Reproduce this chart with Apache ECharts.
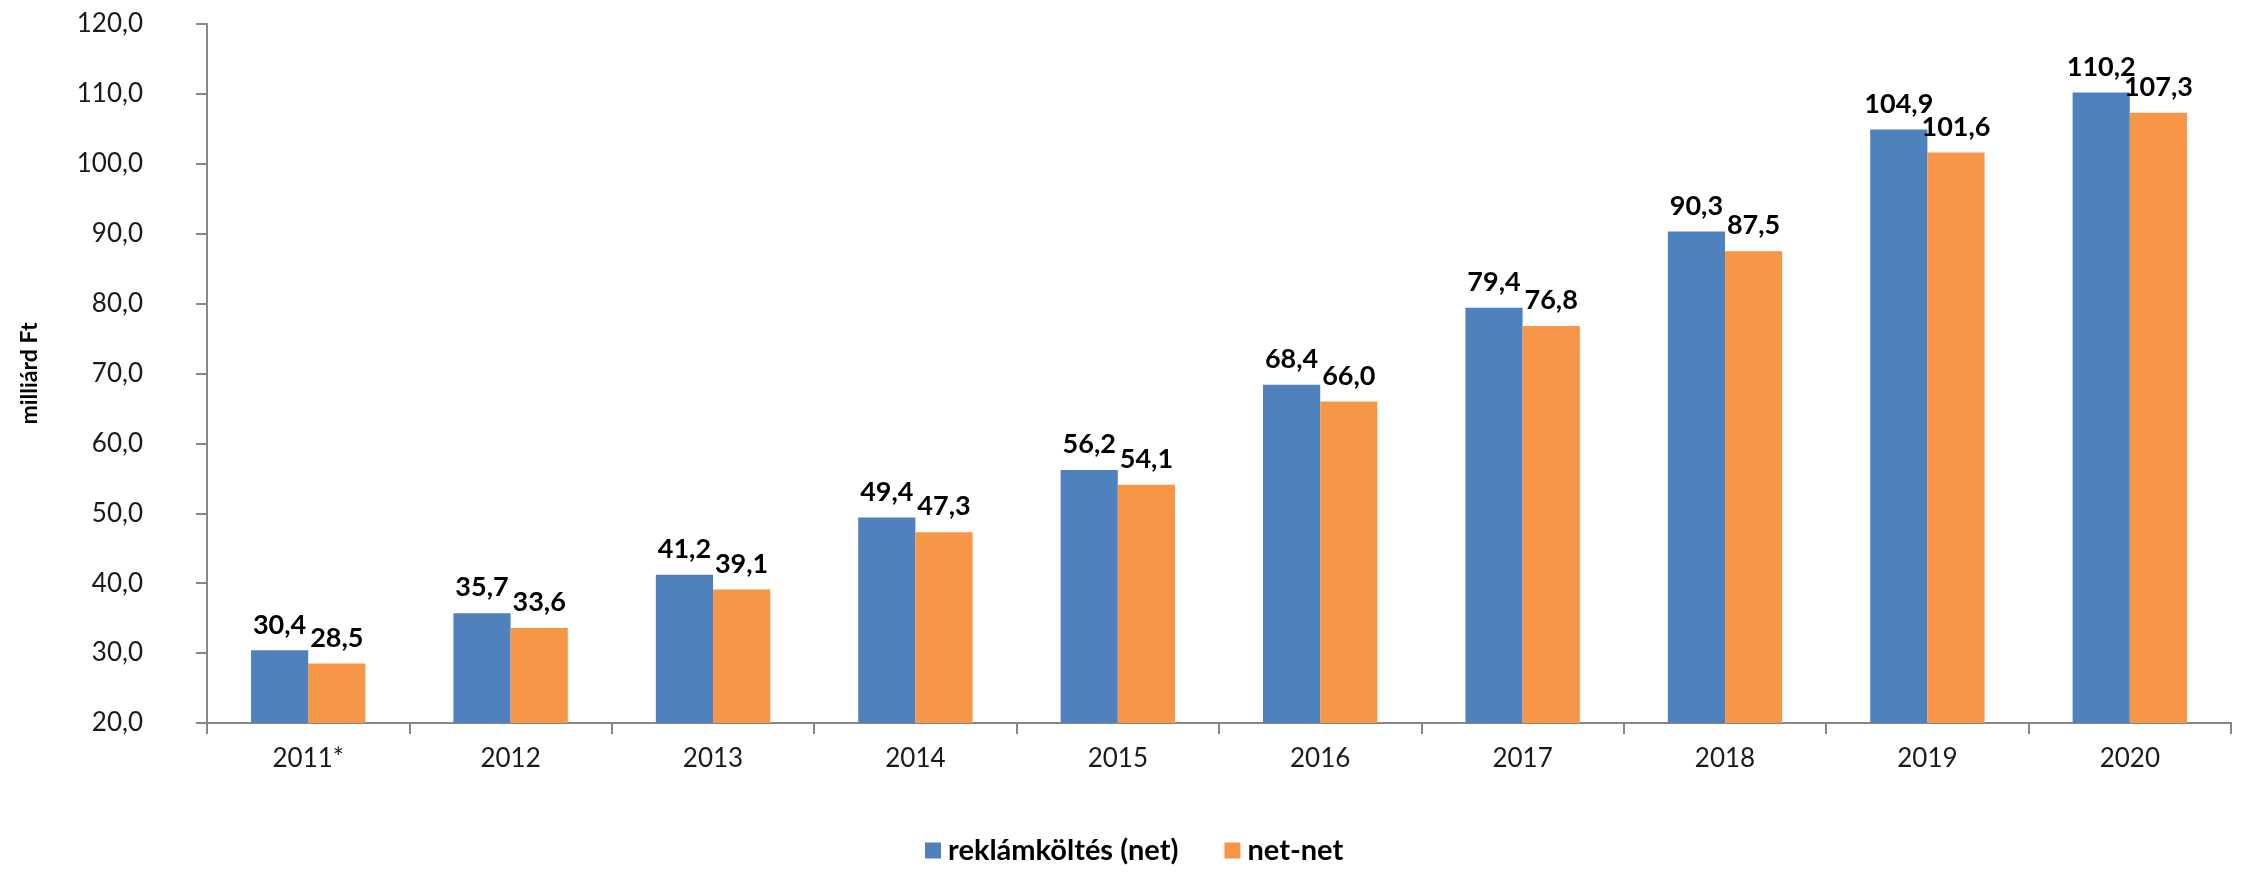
<!DOCTYPE html>
<html>
<head>
<meta charset="utf-8">
<script src="https://cdn.jsdelivr.net/npm/echarts@6/dist/echarts.min.js"></script>
<style>
  html, body { margin: 0; padding: 0; background: #ffffff; }
  #chart { width: 2244px; height: 874px; }
</style>
</head>
<body>
<div id="chart"></div>
<script>
// Annual advertising spend, billion HUF
const categories = ['2011*', '2012', '2013', '2014', '2015', '2016', '2017', '2018', '2019', '2020'];
const netSpend = [30.4, 35.7, 41.2, 49.4, 56.2, 68.4, 79.4, 90.3, 104.9, 110.2];
const netNetSpend = [28.5, 33.6, 39.1, 47.3, 54.1, 66.0, 76.8, 87.5, 101.6, 107.3];
const seriesNames = ['reklámköltés (net)', 'net-net'];
const axisTitle = 'milliárd Ft';

const FONT = 'Lato, "Open Sans", sans-serif';
const fmt = v => v.toFixed(1).replace('.', ',');

const axisLineStyle = { color: '#878787', width: 2 };

const labelStyle = {
  show: true,
  position: 'top',
  distance: 12,
  formatter: p => fmt(p.value),
  fontFamily: FONT,
  fontWeight: 'bold',
  fontSize: 27,
  color: '#000000'
};

const chart = echarts.init(document.getElementById('chart'), null, { renderer: 'canvas' });
chart.setOption({
  animation: false,
  backgroundColor: '#ffffff',
  grid: { left: 207, right: 13, top: 24, bottom: 151, containLabel: false },
  legend: {
    data: seriesNames,
    bottom: 4,
    left: 920,
    itemWidth: 16,
    itemHeight: 16,
    itemGap: 46,
    icon: 'rect',
    textStyle: { fontFamily: FONT, fontWeight: 'bold', fontSize: 29, color: '#000000', padding: [0, 0, 0, 2] }
  },
  xAxis: {
    type: 'category',
    data: categories,
    axisLine: { lineStyle: axisLineStyle },
    axisTick: { show: true, length: 11, lineStyle: axisLineStyle },
    axisLabel: { margin: 23, fontFamily: FONT, fontSize: 26, color: '#1a1a1a' },
    splitLine: { show: false }
  },
  yAxis: {
    type: 'value',
    min: 20,
    max: 120,
    interval: 10,
    name: axisTitle,
    nameLocation: 'middle',
    nameRotate: 90,
    nameGap: 166,
    nameTextStyle: { fontFamily: FONT, fontWeight: 'bold', fontSize: 23, color: '#000000' },
    axisLine: { show: true, lineStyle: axisLineStyle },
    axisTick: { show: true, length: 11, lineStyle: axisLineStyle },
    axisLabel: { margin: 64, formatter: v => fmt(v), fontFamily: FONT, fontSize: 26, color: '#1a1a1a' },
    splitLine: { show: false }
  },
  series: [
    {
      name: seriesNames[0],
      type: 'bar',
      data: netSpend,
      barGap: '0%',
      barCategoryGap: '43.5%',
      itemStyle: { color: '#4F81BD' },
      label: labelStyle
    },
    {
      name: seriesNames[1],
      type: 'bar',
      data: netNetSpend,
      barGap: '0%',
      barCategoryGap: '43.5%',
      itemStyle: { color: '#F79646' },
      label: labelStyle
    }
  ]
});
</script>
</body>
</html>
